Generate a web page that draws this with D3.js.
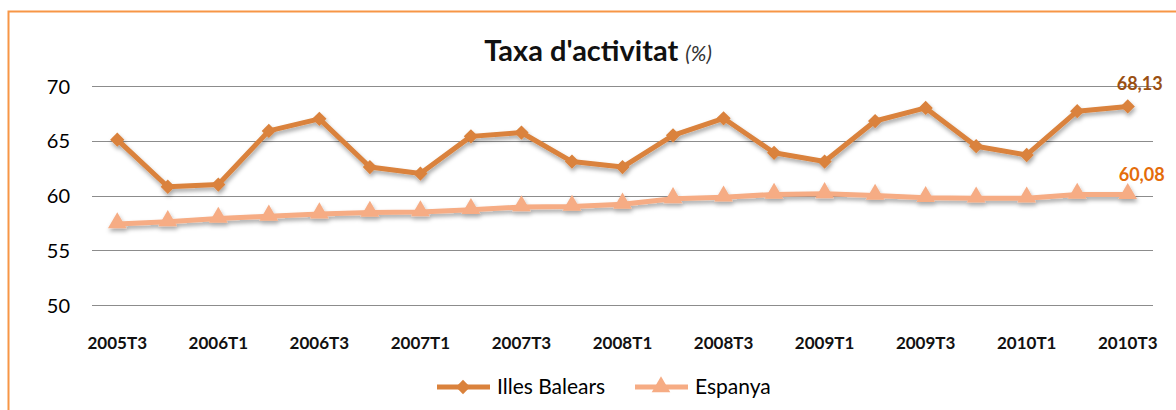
<!DOCTYPE html>
<html><head><meta charset="utf-8">
<script src="https://cdn.jsdelivr.net/npm/d3@7"></script>
<style>body{margin:0;background:#fff}svg{display:block}text{font-family:Lato,"Open Sans",sans-serif}</style>
</head><body><svg id="c" width="1176" height="410"></svg>
<script>
const categories = ["2005T3","2005T4","2006T1","2006T2","2006T3","2006T4","2007T1","2007T2","2007T3","2007T4","2008T1","2008T2","2008T3","2008T4","2009T1","2009T2","2009T3","2009T4","2010T1","2010T2","2010T3"];
const illesBalears = [65.1,60.8,61.0,65.9,67.0,62.6,62.0,65.4,65.75,63.1,62.6,65.5,67.05,63.9,63.1,66.8,68.0,64.5,63.7,67.7,68.13];
const espanya = [57.4,57.6,57.9,58.1,58.3,58.45,58.5,58.7,58.95,59.0,59.2,59.7,59.85,60.1,60.15,60.0,59.8,59.75,59.75,60.1,60.08];
const yTicks = [50,55,60,65,70];
const tickLabels = categories.filter((d,i)=>i%2===0);

const svg = d3.select("#c");
const defs = svg.append("defs");
const f = defs.append("filter").attr("id","sh").attr("x","-20%").attr("y","-20%").attr("width","140%").attr("height","160%");
f.append("feDropShadow").attr("dx",1).attr("dy",3).attr("stdDeviation",2).attr("flood-color","#000").attr("flood-opacity",0.35);

svg.append("rect").attr("x",8.5).attr("y",11.5).attr("width",1180).attr("height",420)
  .attr("fill","#fff").attr("stroke","#F79646").attr("stroke-width",2);

const x = d3.scaleBand().domain(categories).range([92,1153]);
const y = d3.scaleLinear().domain([50,70]).range([305,86]);
const cx = d => x(d)+x.bandwidth()/2;

const grid = svg.append("g");
grid.selectAll("line").data(yTicks).join("line")
  .attr("x1",92).attr("x2",1153).attr("y1",d=>Math.round(y(d))+0.5).attr("y2",d=>Math.round(y(d))+0.5)
  .attr("stroke","#8c8c8c").attr("stroke-width",1);

const yAxis = d3.axisLeft(y).tickValues(yTicks).tickSize(0).tickPadding(0).tickFormat(d3.format("d"));
svg.append("g").attr("transform","translate(70,0)").call(yAxis)
  .call(g=>g.select(".domain").remove())
  .selectAll("text").attr("font-size",20).attr("fill","#000").attr("font-family","Lato,sans-serif").attr("dy","0.35em");

const xAxis = d3.axisBottom(x).tickValues(tickLabels).tickSize(0).tickPadding(0);
svg.append("g").attr("transform","translate(0,343)").call(xAxis)
  .call(g=>g.select(".domain").remove())
  .selectAll("text").attr("font-size",17).attr("font-weight","bold").attr("fill","#111").attr("font-family","Lato,sans-serif").attr("dy","0.35em");

svg.append("text").attr("x",598).attr("y",61).attr("text-anchor","middle")
  .call(t=>{t.append("tspan").attr("font-size",29).attr("font-weight","bold").attr("fill","#111").text("Taxa d'activitat ");
           t.append("tspan").attr("font-size",21).attr("font-style","italic").attr("fill","#333").text("(%)");});

const line = d3.line().x((d,i)=>cx(categories[i])).y(d=>y(d));
const cBal = "#DA823C", cEsp = "#F6AC84";
const diamond = d3.symbol().type(d3.symbolDiamond2).size(130);
const tri = d3.symbol().type(d3.symbolTriangle).size(150);

const gE = svg.append("g").attr("filter","url(#sh)");
gE.append("path").datum(espanya).attr("d",line).attr("fill","none").attr("stroke",cEsp).attr("stroke-width",5).attr("stroke-linejoin","round");
gE.selectAll("path.m").data(espanya).join("path").attr("class","m")
  .attr("transform",(d,i)=>`translate(${cx(categories[i])},${y(d)-1})`).attr("d",tri).attr("fill",cEsp);

const gB = svg.append("g").attr("filter","url(#sh)");
gB.append("path").datum(illesBalears).attr("d",line).attr("fill","none").attr("stroke",cBal).attr("stroke-width",5).attr("stroke-linejoin","round");
gB.selectAll("path.m").data(illesBalears).join("path").attr("class","m")
  .attr("transform",(d,i)=>`translate(${cx(categories[i])},${y(d)})`).attr("d",diamond).attr("fill",cBal);

const fmt = v => d3.format(".2f")(v).replace(".",",");
const n = categories.length-1;
svg.append("text").attr("x",cx(categories[n])+12).attr("y",y(illesBalears[n])-16).attr("text-anchor","middle")
  .attr("font-size",18).attr("font-weight","bold").attr("fill","#9A4F12").text(fmt(illesBalears[n]));
svg.append("text").attr("x",cx(categories[n])+14).attr("y",y(espanya[n])-14).attr("text-anchor","middle")
  .attr("font-size",18).attr("font-weight","bold").attr("fill","#E46C0A").text(fmt(espanya[n]));

// legend
const lg = svg.append("g");
const items = [{name:"Illes Balears",c:cBal,s:diamond,x0:437},{name:"Espanya",c:cEsp,s:tri,x0:635}];
items.forEach(it=>{
  lg.append("line").attr("x1",it.x0).attr("x2",it.x0+53).attr("y1",387).attr("y2",387).attr("stroke",it.c).attr("stroke-width",5);
  lg.append("path").attr("d",it.s).attr("transform",`translate(${it.x0+26},387)`).attr("fill",it.c);
  lg.append("text").attr("x",it.x0+60).attr("y",387).attr("dy","0.35em").attr("font-size",21).attr("fill","#000").text(it.name);
});
</script></body></html>
